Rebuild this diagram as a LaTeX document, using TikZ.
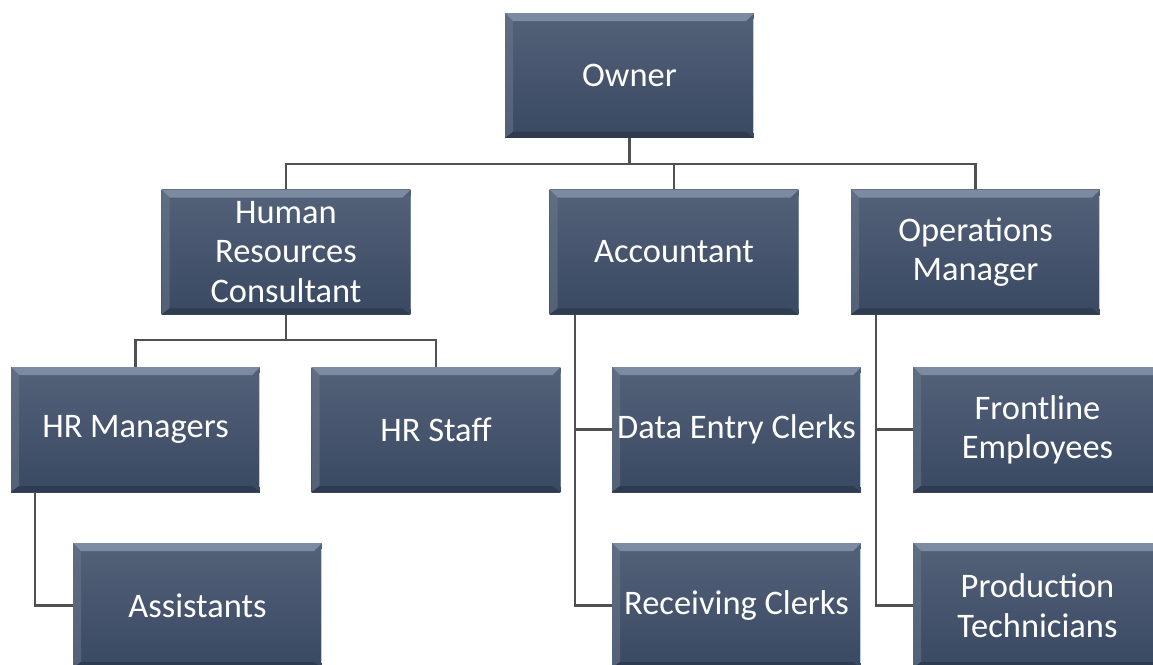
\documentclass[tikz,border=0pt]{standalone}
\usepackage{fontspec}
\setmainfont{Carlito}
\usepackage{xcolor}
\definecolor{boxtop}{HTML}{536279}
\definecolor{boxbottom}{HTML}{3A4962}
\definecolor{bevellight}{HTML}{7D8BA1}
\definecolor{beveldark}{HTML}{2F3B4F}
\definecolor{edgelight}{HTML}{B8CCE2}
\definecolor{linegrey}{HTML}{505050}

\begin{document}
\begin{tikzpicture}[x=0.02cm,y=-0.02cm,
    role/.style={minimum width=4.98cm,minimum height=2.5cm,inner sep=0pt,
      align=center,text=white,font=\fontsize{19.6}{22.4}\selectfont,
      top color=boxtop,bottom color=boxbottom,
      path picture={
        \fill[bevellight] (path picture bounding box.north west) -- (path picture bounding box.north east)
          -- ([shift={(-0.16cm,-0.16cm)}]path picture bounding box.north east)
          -- ([shift={(0.16cm,-0.16cm)}]path picture bounding box.north west) -- cycle;
        \fill[boxtop!85!white,opacity=0.5] (path picture bounding box.north west)
          -- ([shift={(0.16cm,-0.16cm)}]path picture bounding box.north west)
          -- ([shift={(0.16cm,0.12cm)}]path picture bounding box.south west)
          -- (path picture bounding box.south west) -- cycle;
        \fill[beveldark] (path picture bounding box.south west) -- (path picture bounding box.south east)
          -- ([shift={(-0.16cm,0.12cm)}]path picture bounding box.south east)
          -- ([shift={(0.16cm,0.12cm)}]path picture bounding box.south west) -- cycle;
        \draw[edgelight,line width=1pt] ([yshift=-0.12cm]path picture bounding box.north east)
          -- ([yshift=0.1cm]path picture bounding box.south east);
      }},
    link/.style={draw=linegrey,line width=1.2pt}]
  \useasboundingbox (0,0) rectangle (1153,664);
  \clip (0,0) rectangle (1153,664);

  % boxes
  \node[role] (owner) at (629.5,75.5) {Owner};
  \node[role] (hrc) at (286,252) {Human\\Resources\\Consultant};
  \node[role] (acct) at (674,252) {Accountant};
  \node[role] (opsmgr) at (975.5,252) {Operations\\Manager};
  \node[role] (hrmgr) at (135.5,429.5) {HR Managers};
  \node[role] (hrstaff) at (436,429.5) {HR Staff};
  \node[role] (asst) at (197.5,605.5) {Assistants};
  \node[role] (dataclerk) at (736.5,429.5) {Data Entry Clerks};
  \node[role] (recvclerk) at (736.5,605.5) {Receiving Clerks};
  \node[role] (frontline) at (1037.5,429.5) {Frontline\\Employees};
  \node[role] (prodtech) at (1037.5,605.5) {Production\\Technicians};

  % owner to managers
  \draw[link] (owner.south) -- ++(0,26) coordinate (ownerbar);
  \draw[link] (hrc.north) |- (ownerbar) -| (opsmgr.north);
  \draw[link] (acct.north) -- (acct.north |- ownerbar);

  % human resources
  \draw[link] (hrc.south) -- ++(0,25) coordinate (hrbar);
  \draw[link] (hrmgr.north) |- (hrbar) -| (hrstaff.north);
  \draw[link] ([xshift=0.48cm]hrmgr.south west) |- (asst.west);

  % accountant
  \draw[link] ([xshift=0.52cm]acct.south west) |- (recvclerk.west);
  \draw[link] ([xshift=0.52cm]acct.south west) |- (dataclerk.west);

  % operations
  \draw[link] ([xshift=0.5cm]opsmgr.south west) |- (prodtech.west);
  \draw[link] ([xshift=0.5cm]opsmgr.south west) |- (frontline.west);
\end{tikzpicture}
\end{document}
